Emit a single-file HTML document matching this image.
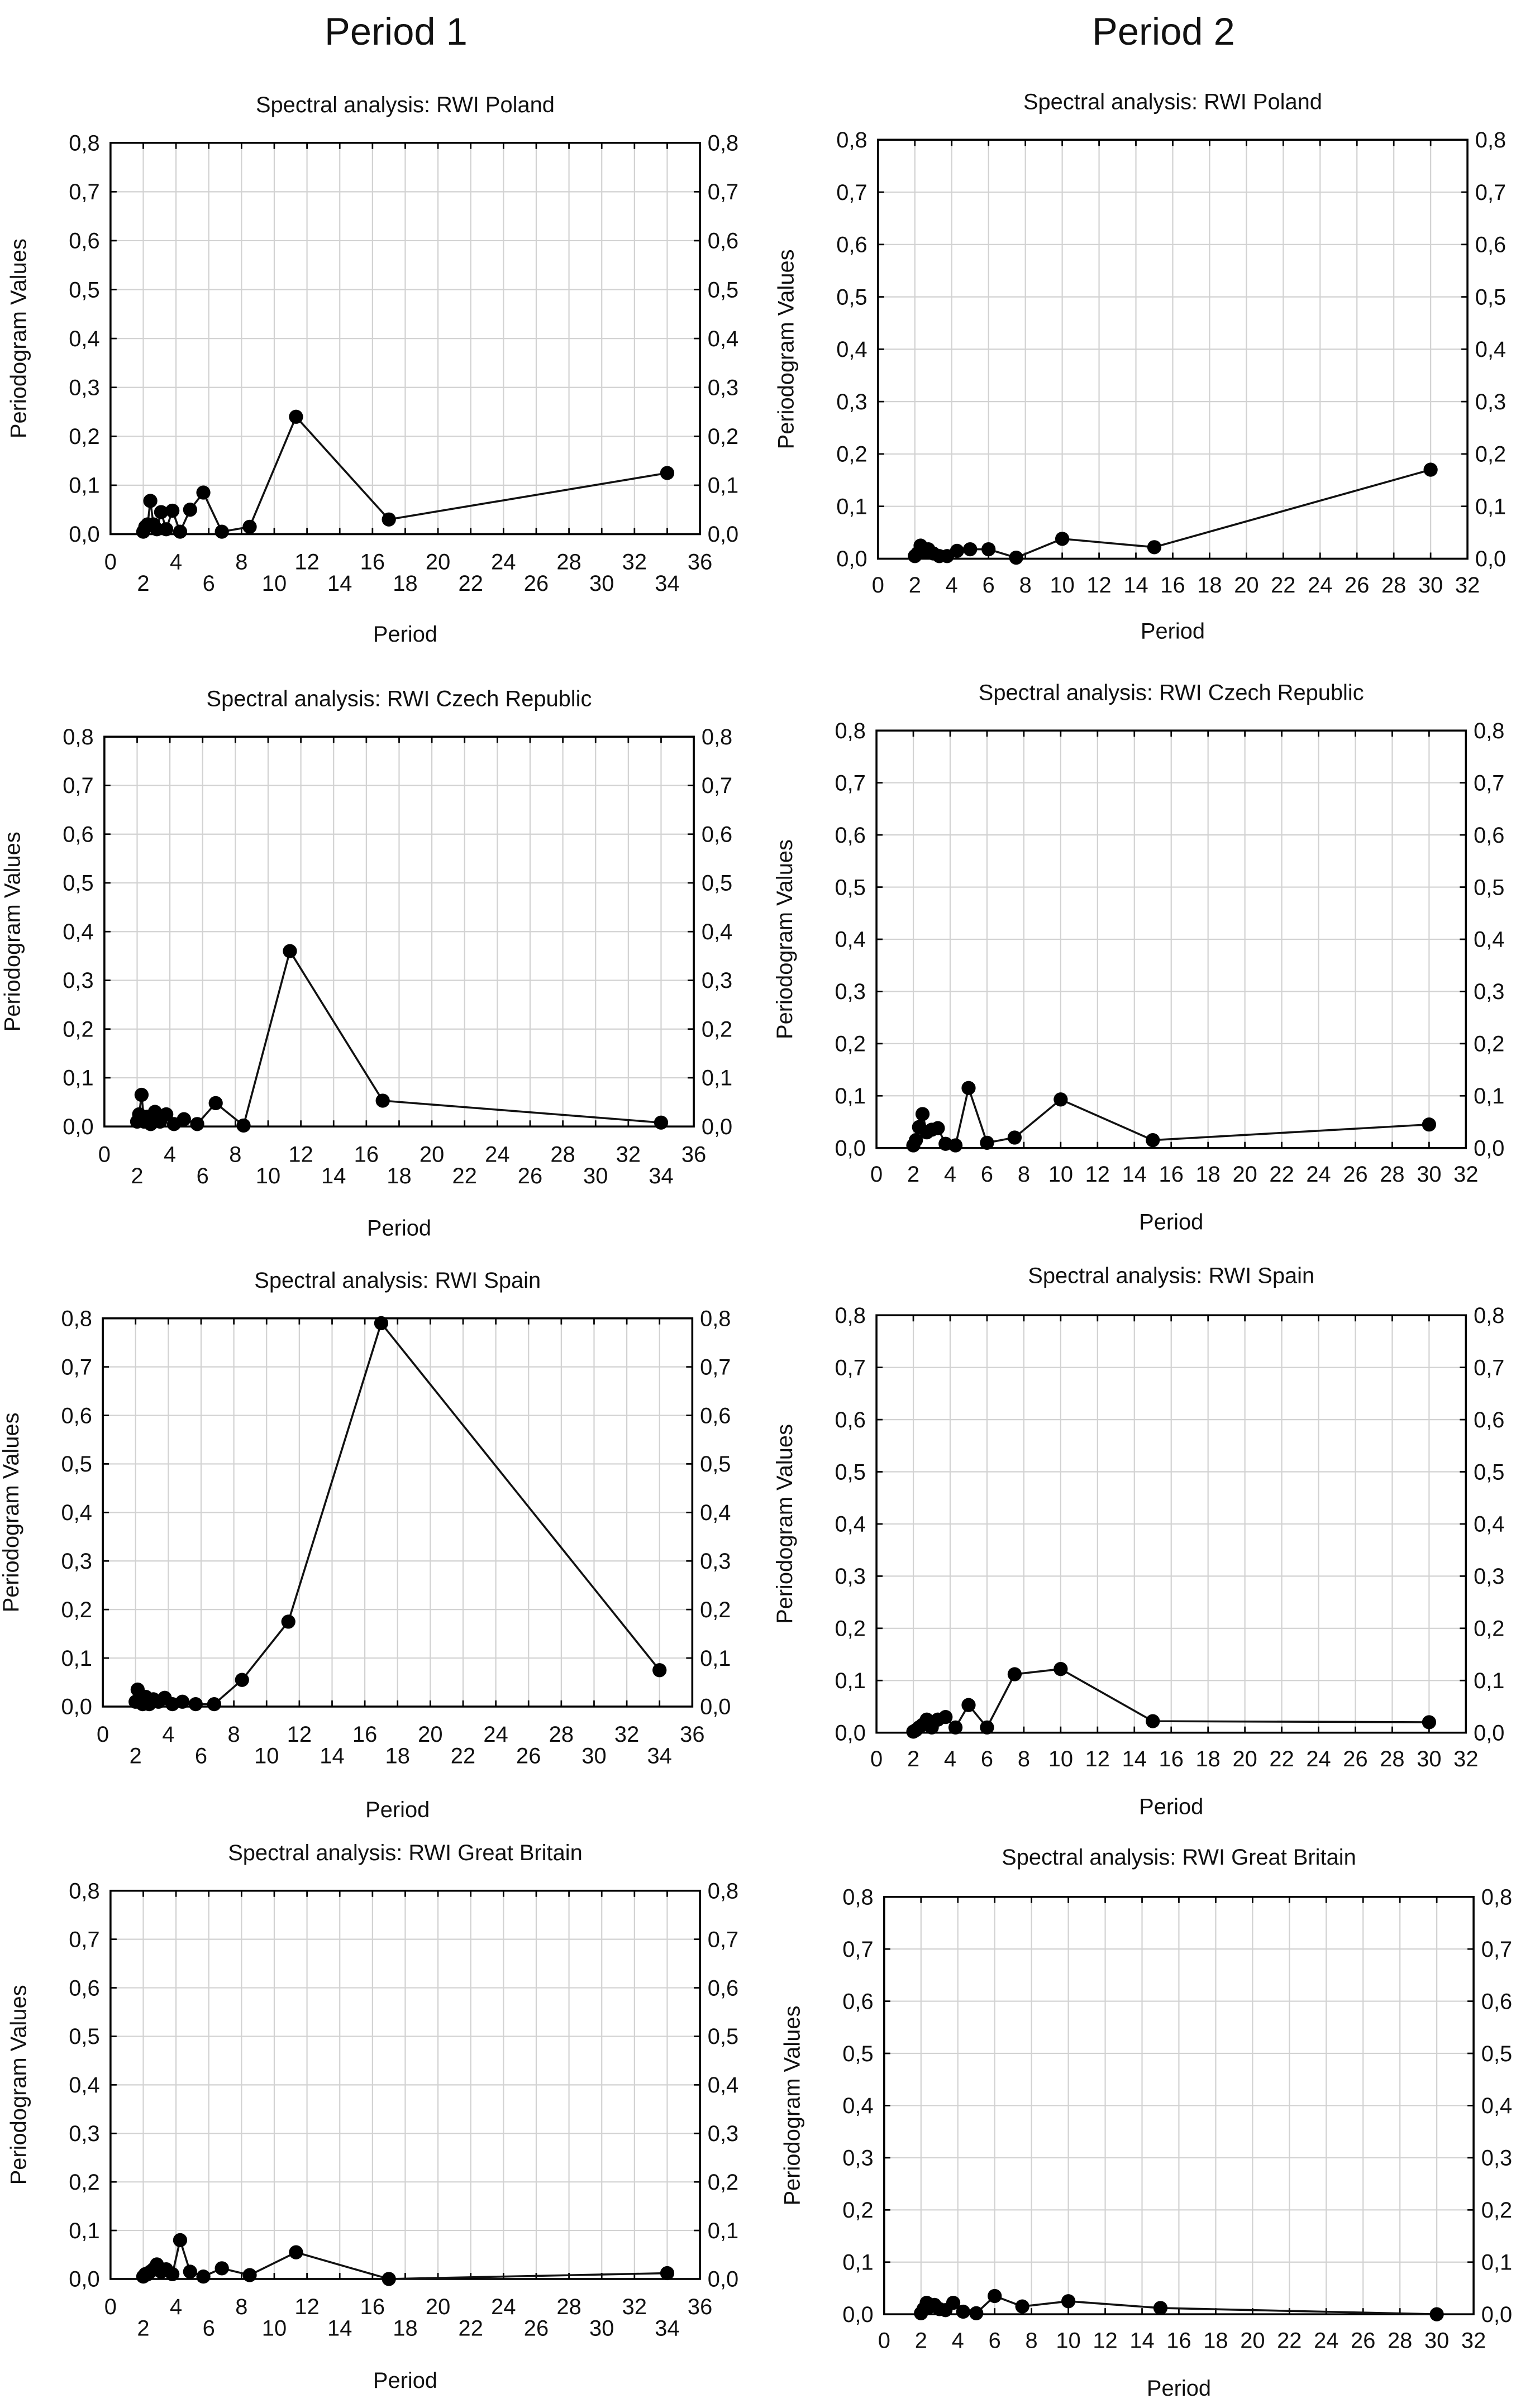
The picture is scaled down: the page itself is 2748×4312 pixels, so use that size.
<!DOCTYPE html>
<html><head><meta charset="utf-8">
<style>
html,body{margin:0;padding:0;background:#fff;}
svg{display:block;font-family:"Liberation Sans",Arial,sans-serif;}
</style></head>
<body>
<svg id="root" xmlns="http://www.w3.org/2000/svg" width="2748" height="4312" viewBox="0 0 1000 1569">
<rect width="1000" height="1569" fill="#fff"/>
<text x="258" y="29" font-size="25" text-anchor="middle" fill="#111">Period 1</text>
<text x="758" y="29" font-size="25" text-anchor="middle" fill="#111">Period 2</text>
</svg>
<script>
// Period 1 (N=34) harmonic periods
const periodsA = [2.0,2.125,2.27,2.43,2.62,2.83,3.09,3.4,3.78,4.25,4.86,5.67,6.8,8.5,11.33,17,34];
// Period 2 (N=30) harmonic periods
const periodsB = [2.0,2.14,2.31,2.5,2.73,3.0,3.33,3.75,4.29,5,6,7.5,10,15,30];
const polandP1 = [0.005,0.015,0.02,0.068,0.02,0.01,0.045,0.01,0.048,0.005,0.05,0.085,0.005,0.015,0.24,0.03,0.125];
const polandP2 = [0.005,0.01,0.025,0.012,0.018,0.01,0.005,0.005,0.015,0.018,0.018,0.002,0.038,0.022,0.17];
const czechP1 = [0.01,0.025,0.065,0.01,0.02,0.005,0.03,0.01,0.025,0.005,0.015,0.005,0.048,0.002,0.36,0.053,0.008];
const czechP2 = [0.005,0.015,0.04,0.065,0.03,0.035,0.038,0.008,0.005,0.115,0.01,0.02,0.093,0.015,0.045];
const spainP1 = [0.01,0.035,0.01,0.005,0.02,0.005,0.015,0.01,0.018,0.005,0.01,0.005,0.005,0.055,0.175,0.79,0.075];
const spainP2 = [0.002,0.005,0.01,0.015,0.025,0.01,0.025,0.03,0.01,0.053,0.01,0.112,0.122,0.022,0.02];
const gbP1 = [0.005,0.01,0.01,0.015,0.02,0.03,0.015,0.02,0.01,0.08,0.015,0.005,0.022,0.008,0.055,0.0,0.012];
const gbP2 = [0.002,0.01,0.022,0.015,0.018,0.01,0.008,0.022,0.005,0.002,0.035,0.015,0.025,0.012,0.0];
const yTicks = ["0,0","0,1","0,2","0,3","0,4","0,5","0,6","0,7","0,8"];
const xTicksA = [0,2,4,6,8,10,12,14,16,18,20,22,24,26,28,30,32,34,36];
const xTicksB = [0,2,4,6,8,10,12,14,16,18,20,22,24,26,28,30,32];

const panels = [
 {name:'poland-p1',title:'Spectral analysis: RWI Poland',x0:72,x1:456,y0:93,y1:348,xmax:36,xt:xTicksA,px:periodsA,v:polandP1,two:true,ty:73,period:418},
 {name:'poland-p2',title:'Spectral analysis: RWI Poland',x0:572,x1:956,y0:91,y1:364,xmax:32,xt:xTicksB,px:periodsB,v:polandP2,two:false,ty:71,period:416},
 {name:'czech-p1',title:'Spectral analysis: RWI Czech Republic',x0:68,x1:452,y0:480,y1:734,xmax:36,xt:xTicksA,px:periodsA,v:czechP1,two:true,ty:460,period:805},
 {name:'czech-p2',title:'Spectral analysis: RWI Czech Republic',x0:571,x1:955,y0:476,y1:748,xmax:32,xt:xTicksB,px:periodsB,v:czechP2,two:false,ty:456,period:801},
 {name:'spain-p1',title:'Spectral analysis: RWI Spain',x0:67,x1:451,y0:859,y1:1112,xmax:36,xt:xTicksA,px:periodsA,v:spainP1,two:true,ty:839,period:1184},
 {name:'spain-p2',title:'Spectral analysis: RWI Spain',x0:571,x1:955,y0:857,y1:1129,xmax:32,xt:xTicksB,px:periodsB,v:spainP2,two:false,ty:836,period:1182},
 {name:'gb-p1',title:'Spectral analysis: RWI  Great Britain',x0:72,x1:456,y0:1232,y1:1485,xmax:36,xt:xTicksA,px:periodsA,v:gbP1,two:true,ty:1212,period:1556},
 {name:'gb-p2',title:'Spectral analysis: RWI  Great Britain',x0:576,x1:960,y0:1236,y1:1508,xmax:32,xt:xTicksB,px:periodsB,v:gbP2,two:false,ty:1215,period:1561}
];
const NS='http://www.w3.org/2000/svg';
const root=document.getElementById('root');
function mk(tag,attrs,parent){const e=document.createElementNS(NS,tag);for(const k in attrs)e.setAttribute(k,attrs[k]);(parent||root).appendChild(e);return e;}
panels.forEach(p=>{
  const g=mk('g',{});
  
  
  const sx=v=>p.x0+(v/p.xmax)*(p.x1-p.x0);
  const sy=v=>p.y1-(v/0.8)*(p.y1-p.y0);
  const t=mk('text',{x:(p.x0+p.x1)/2,y:p.ty,'font-size':14.5,'text-anchor':'middle',fill:'#111'},g);
  t.textContent=p.title;
  
  
  for(let i=1;i<p.xt.length-1;i++){const x=sx(p.xt[i]);mk('line',{x1:x,x2:x,y1:p.y0,y2:p.y1,stroke:'#d2d2d2','stroke-width':0.8},g);
    mk('line',{x1:x,x2:x,y1:p.y0,y2:p.y0+4,stroke:'#000','stroke-width':1},g);mk('line',{x1:x,x2:x,y1:p.y1,y2:p.y1-4,stroke:'#000','stroke-width':1},g);}
  yTicks.forEach((lab,i)=>{const y=sy(i*0.1);
    if(i>0&&i<8){mk('line',{x1:p.x0,x2:p.x1,y1:y,y2:y,stroke:'#d2d2d2','stroke-width':0.8},g);
      mk('line',{x1:p.x0,x2:p.x0+4,y1:y,y2:y,stroke:'#000'},g);mk('line',{x1:p.x1,x2:p.x1-4,y1:y,y2:y,stroke:'#000'},g);}
    const l=mk('text',{x:p.x0-7,y:y+5,'font-size':14.5,'text-anchor':'end',fill:'#111'},g);l.textContent=lab;
    
    
    const r=mk('text',{x:p.x1+5,y:y+5,'font-size':14.5,'text-anchor':'start',fill:'#111'},g);r.textContent=lab;
    
    
  });
  mk('rect',{x:p.x0,y:p.y0,width:p.x1-p.x0,height:p.y1-p.y0,fill:'none',stroke:'#000','stroke-width':1.3},g);
  p.xt.forEach((v,i)=>{const yy=p.two?(i%2===0?p.y1+23:p.y1+37):p.y1+22;
    const l=mk('text',{x:sx(v),y:yy,'font-size':14.5,'text-anchor':'middle',fill:'#111'},g);l.textContent=v;
    
    });
  const xt=mk('text',{x:(p.x0+p.x1)/2,y:p.period,'font-size':14.5,'text-anchor':'middle',fill:'#111'},g);xt.textContent='Period';
  
  
  const cy=(p.y0+p.y1)/2, cx=p.x0-55;
  const yt=mk('text',{x:cx,y:cy,'font-size':14.5,'text-anchor':'middle',fill:'#111',transform:`rotate(-90 ${cx} ${cy})`},g);yt.textContent='Periodogram Values';
  
  
  const pts=p.px.map((x,i)=>sx(x).toFixed(2)+','+sy(p.v[i]).toFixed(2)).join(' ');
  const line=mk('polyline',{points:pts,fill:'none',stroke:'#111','stroke-width':1.3},g);
  
  
  p.px.forEach((x,i)=>{const c=mk('circle',{cx:sx(x),cy:sy(p.v[i]),r:4.6,fill:'#000'},g);
    
    });
});
</script>
</body></html>
